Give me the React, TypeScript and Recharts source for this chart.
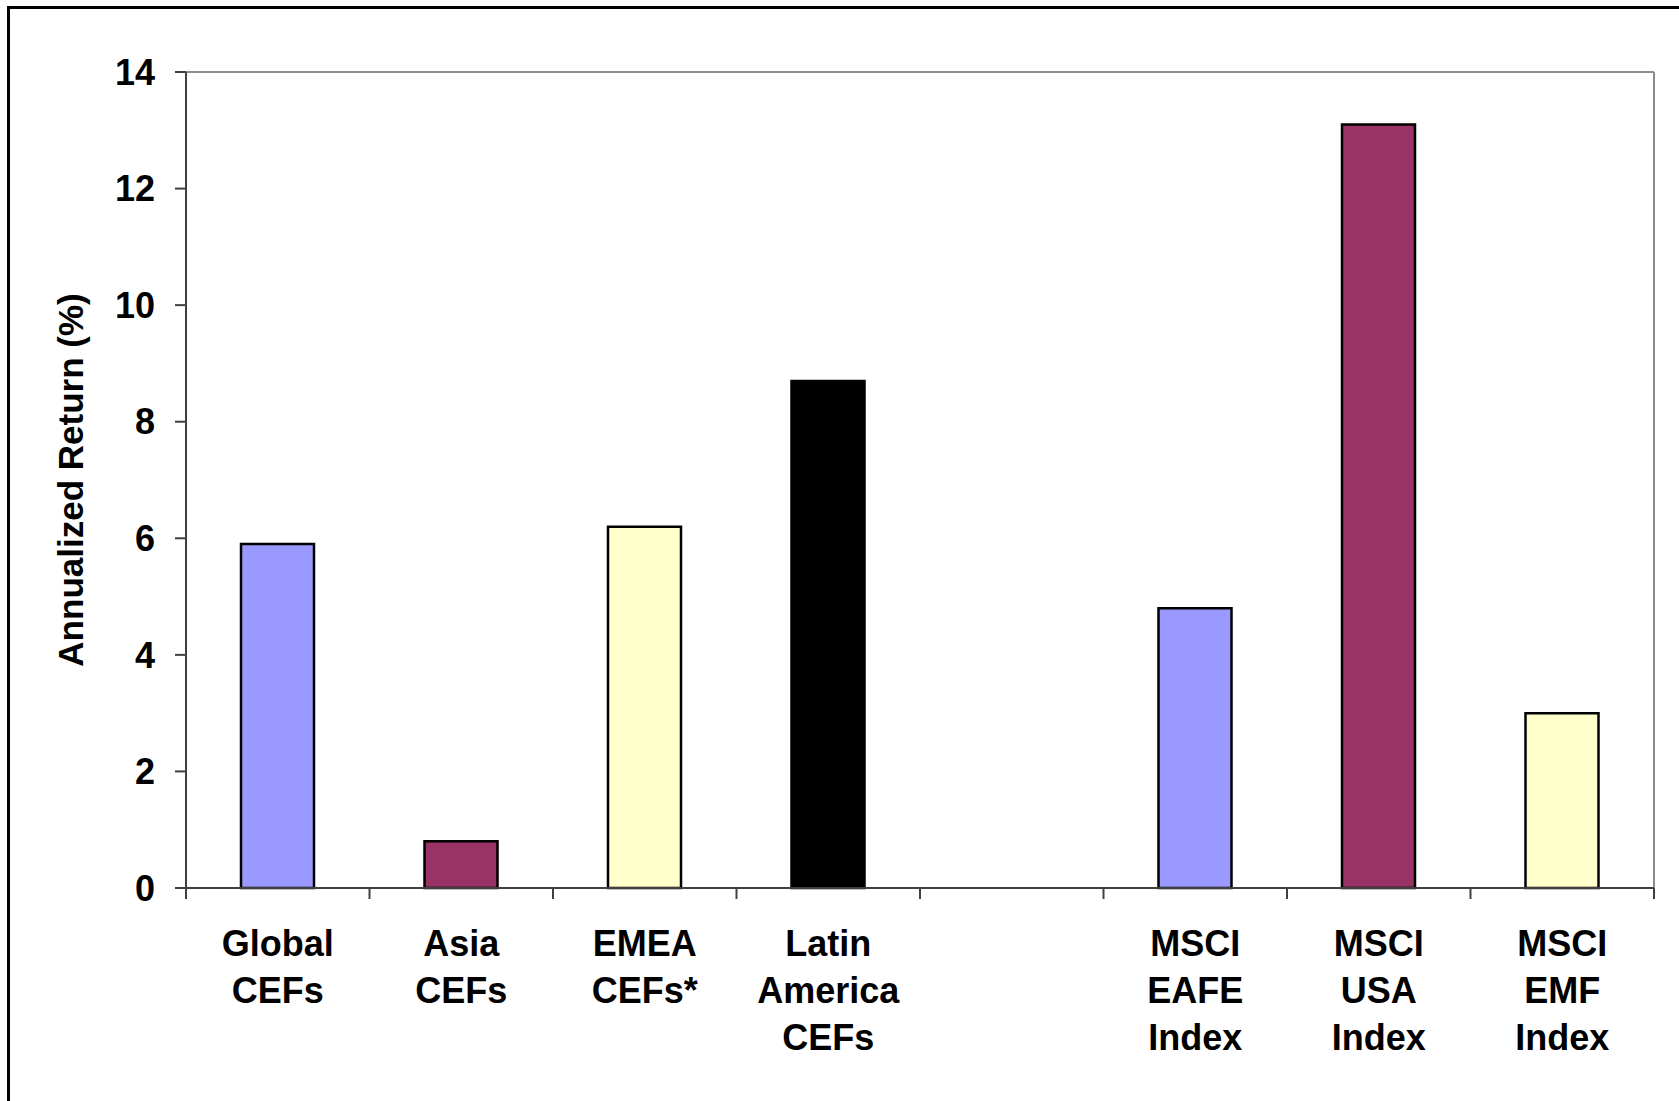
import React from "react";
import { BarChart, Bar, XAxis, YAxis, Cell, ReferenceLine, Label } from "recharts";

const categories = [
	"Global\nCEFs",
	"Asia\nCEFs",
	"EMEA\nCEFs*",
	"Latin\nAmerica\nCEFs",
	"",
	"MSCI\nEAFE\nIndex",
	"MSCI\nUSA\nIndex",
	"MSCI\nEMF\nIndex",
];
const returns = [5.9, 0.8, 6.2, 8.7, null, 4.8, 13.1, 3.0];
const barColors = ["#9999FF", "#993366", "#FFFFCC", "#000000", "#FFFFFF", "#9999FF", "#993366", "#FFFFCC"];
const yTicks = [0, 2, 4, 6, 8, 10, 12, 14];

const W = 1679;
const H = 1101;
const FONT = "'Liberation Sans', Arial, sans-serif";
const AXIS = "#404040";
const FRAME = "#8c8c8c";

const data = categories.map((name, i) => ({ name, value: returns[i] }));

function CategoryTick(props: any) {
	const { x, y, payload, index } = props;
	const half = payload.offset ?? (W - 186 - 25) / categories.length / 2;
	const lines = String(payload.value).split("\n");
	const last = index === categories.length - 1;
	return (
		<g>
			<line x1={x - half} y1={y} x2={x - half} y2={y + 11} stroke={AXIS} strokeWidth={2} />
			{last && <line x1={x + half} y1={y} x2={x + half} y2={y + 11} stroke={AXIS} strokeWidth={2} />}
			<text textAnchor="middle" fill="#000" fontSize={36} fontWeight={700} fontFamily={FONT}>
				{lines.map((l, i) => (
					<tspan key={i} x={x} y={y + 68 + i * 47}>
						{l}
					</tspan>
				))}
			</text>
		</g>
	);
}

export default function App() {
	return (
		<div style={{ position: "absolute", left: 0, top: 0, width: W, height: H, overflow: "hidden", background: "#fff" }}>
			<div
				style={{
					position: "absolute",
					left: 7,
					top: 6,
					width: 1800,
					height: 1200,
					border: "3px solid #000",
				}}
			/>
			<div style={{ position: "absolute", left: 0, top: 0 }}>
				<BarChart width={W} height={H} data={data} margin={{ top: 72, right: 25, left: 0, bottom: 13 }}>
					<XAxis
						dataKey="name"
						interval={0}
						height={200}
						tickLine={false}
						tickSize={0}
						tickMargin={0}
						axisLine={{ stroke: AXIS, strokeWidth: 2 }}
						tick={<CategoryTick />}
					/>
					<YAxis
						width={186}
						domain={[0, 14]}
						ticks={yTicks}
						tickSize={11}
						tickMargin={20}
						axisLine={{ stroke: AXIS, strokeWidth: 2 }}
						tickLine={{ stroke: AXIS, strokeWidth: 2 }}
						tick={{ fill: "#000", fontSize: 36, fontWeight: 700, fontFamily: FONT }}
					>
						<Label
							value="Annualized Return (%)"
							angle={-90}
							position="center"
							dx={-22}
							fill="#000"
							fontSize={35}
							fontWeight={700}
							fontFamily={FONT}
						/>
					</YAxis>
					<ReferenceLine y={14} stroke={FRAME} strokeWidth={2} />
					<ReferenceLine x={categories[categories.length - 1]} position="end" stroke={FRAME} strokeWidth={2} />
					<Bar dataKey="value" barSize={73} stroke="#000" strokeWidth={2.5} isAnimationActive={false}>
						{data.map((_, i) => (
							<Cell key={i} fill={barColors[i]} />
						))}
					</Bar>
				</BarChart>
			</div>
		</div>
	);
}
